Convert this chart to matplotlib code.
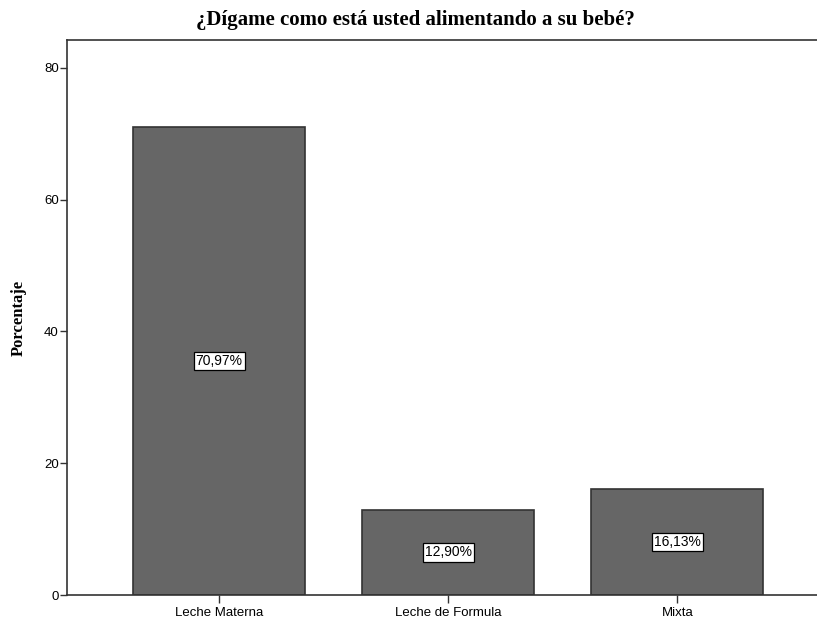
import matplotlib
matplotlib.use("Agg")
from matplotlib import pyplot as plt

categories = ["Leche Materna", "Leche de Formula", "Mixta"]
percent = [70.97, 12.90, 16.13]
bar_labels = ["70,97%", "12,90%", "16,13%"]

fig = plt.figure(figsize=(8.17, 6.22), dpi=100)
ax = fig.add_axes([67/817, 27/622, 1 - 67/817, 555/622])

ind = list(range(len(categories)))
ax.bar(ind, percent, width=0.75, color='#666666', edgecolor='#333333', linewidth=1.2)

for x, v, lab in zip(ind, percent, bar_labels):
    ax.text(x, v / 2, lab, ha='center', va='center', fontsize=10, family='Liberation Sans',
            bbox=dict(boxstyle='square,pad=0.15', facecolor='white', edgecolor='black', linewidth=0.9))

ax.set_xlim(-0.664, 2.61)
ax.set_ylim(0, 84.2)
ax.set_yticks([0, 20, 40, 60, 80])
ax.set_xticks(ind)
ax.set_xticklabels(categories, fontsize=9.5, family='Liberation Sans')
for t in ax.get_yticklabels():
    t.set_fontsize(9.5)
    t.set_family('Liberation Sans')
ax.tick_params(axis='y', length=5, width=1, color='#333333', pad=1)
ax.tick_params(axis='x', length=6, width=1, color='#333333', pad=3)

ax.spines['right'].set_visible(False)
for s in ['left', 'bottom', 'top']:
    ax.spines[s].set_color('#333333')
    ax.spines[s].set_linewidth(1.2)

ax.set_ylabel('Porcentaje', fontsize=12, fontweight='bold', family='Liberation Serif', labelpad=12)
fig.text(415/817, 1 - 20/622, '¿Dígame como está usted alimentando a su bebé?', ha='center', va='center',
         fontsize=15, fontweight='bold', family='Liberation Serif')

plt.savefig('out.png', dpi=100)
